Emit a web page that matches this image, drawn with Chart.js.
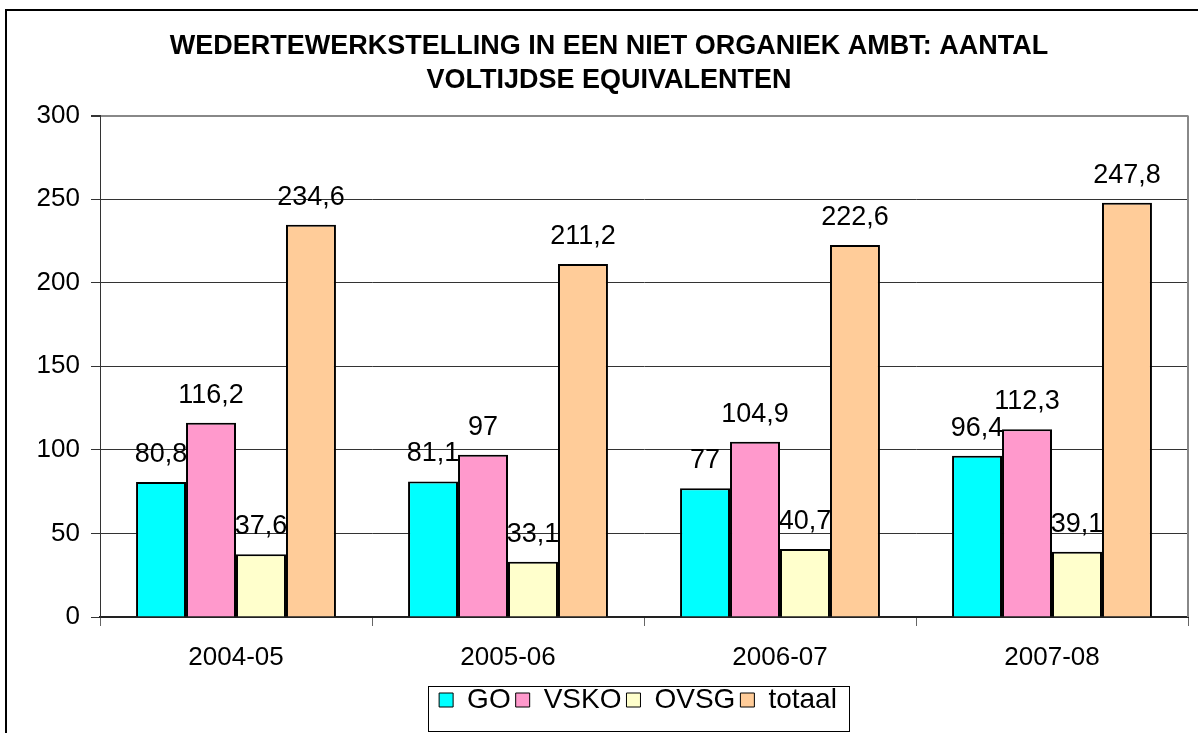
<!DOCTYPE html>
<html lang="nl">
<head>
  <meta charset="UTF-8">
  <title>Wedertewerkstelling in een niet organiek ambt</title>
  <style>
    body {
      margin: 0;
      padding: 0;
      background: #fff;
      overflow: hidden;
    }
    #wrap {
      position: absolute;
      left: 0;
      top: 0;
      width: 1198px;
      height: 733px;
    }
  </style>
  <script src="https://cdn.jsdelivr.net/npm/chart.js"></script>
</head>
<body>
<div id="wrap">
  <canvas id="chart" width="1198" height="733"></canvas>
</div>

<script>
  // data
  const categories = ['2004-05', '2005-06', '2006-07', '2007-08'];
  const goValues = [80.8, 81.1, 77, 96.4];
  const vskoValues = [116.2, 97, 104.9, 112.3];
  const ovsgValues = [37.6, 33.1, 40.7, 39.1];
  const totaalValues = [234.6, 211.2, 222.6, 247.8];
  const yTicks = [0, 50, 100, 150, 200, 250, 300];
  const titleLines = ['WEDERTEWERKSTELLING IN EEN NIET ORGANIEK AMBT: AANTAL', 'VOLTIJDSE EQUIVALENTEN'];

  const FONT = '"Liberation Sans", Arial, sans-serif';

  function fmt(v) {
    return String(v).replace('.', ',');
  }

  // outer frame of the chart object (right/bottom sides fall outside the picture)
  const framePlugin = {
    id: 'frame',
    beforeDraw(chart) {
      const ctx = chart.ctx;
      ctx.save();
      ctx.fillStyle = '#fff';
      ctx.fillRect(0, 0, chart.width, chart.height);
      ctx.strokeStyle = '#000';
      ctx.lineWidth = 2;
      ctx.strokeRect(6, 10, chart.width + 50, chart.height + 50);
      ctx.restore();
    },
    afterLayout(chart) {
      // the excel frame is wider than the picture, so title and legend sit right of centre
      chart.legend.left += 44;
      chart.legend.right += 44;
      if (chart.titleBlock) {
        chart.titleBlock.left += 15;
        chart.titleBlock.right += 15;
      }
    },
    afterDraw(chart) {
      // right border of the plot area
      const a = chart.chartArea;
      const ctx = chart.ctx;
      ctx.save();
      ctx.strokeStyle = '#888';
      ctx.lineWidth = 2;
      ctx.beginPath();
      ctx.moveTo(a.right, a.top);
      ctx.lineTo(a.right, a.bottom);
      ctx.stroke();

      // border round the legend
      const boxes = chart.legend.legendHitBoxes;
      if (boxes && boxes.length) {
        let left = Infinity, right = -Infinity;
        boxes.forEach(b => {
          left = Math.min(left, b.left);
          right = Math.max(right, b.left + b.width);
        });
        const cy = boxes[0].top + boxes[0].height / 2;
        ctx.strokeStyle = '#000';
        ctx.lineWidth = 1;
        ctx.strokeRect(Math.round(left - 11) + 0.5, Math.round(cy - 14) + 0.5, Math.round(right - left + 23), 45);
      }
      ctx.restore();
    }
  };

  // value labels above each bar
  const valueLabels = {
    id: 'valueLabels',
    afterDatasetsDraw(chart) {
      const ctx = chart.ctx;
      ctx.save();
      ctx.font = '27px ' + FONT;
      ctx.fillStyle = '#000';
      ctx.textAlign = 'center';
      ctx.textBaseline = 'alphabetic';
      chart.data.datasets.forEach((ds, i) => {
        const meta = chart.getDatasetMeta(i);
        meta.data.forEach((bar, j) => {
          ctx.fillText(fmt(ds.data[j]), bar.x, bar.y - 20);
        });
      });
      ctx.restore();
    }
  };

  const barBorder = '#000';

  new Chart(document.getElementById('chart'), {
    type: 'bar',
    data: {
      labels: categories,
      datasets: [
        { label: 'GO', data: goValues, backgroundColor: '#00FFFF', borderColor: barBorder, borderWidth: 2 },
        { label: 'VSKO', data: vskoValues, backgroundColor: '#FF99CC', borderColor: barBorder, borderWidth: 2 },
        { label: 'OVSG', data: ovsgValues, backgroundColor: '#FFFFCC', borderColor: barBorder, borderWidth: 2 },
        { label: 'totaal', data: totaalValues, backgroundColor: '#FFCC99', borderColor: barBorder, borderWidth: 2 }
      ]
    },
    options: {
      responsive: false,
      animation: false,
      devicePixelRatio: 1,
      categoryPercentage: 0.735,
      barPercentage: 1,
      layout: {
        padding: { left: 0, right: 10, top: 0, bottom: 9 }
      },
      plugins: {
        title: {
          display: true,
          text: titleLines,
          color: '#000',
          font: { family: FONT, size: 27, weight: 'bold', lineHeight: 1.25 },
          padding: { top: 30, bottom: 18 }
        },
        legend: {
          position: 'bottom',
          labels: {
            color: '#000',
            font: { family: FONT, size: 28 },
            boxWidth: 14,
            boxHeight: 14,
            padding: 5,
            generateLabels(chart) {
              return chart.data.datasets.map((ds, i) => ({
                text: ds.label,
                fillStyle: ds.backgroundColor,
                strokeStyle: '#000',
                lineWidth: 1,
                hidden: false,
                datasetIndex: i,
                fontColor: '#000'
              }));
            }
          }
        },
        tooltip: { enabled: false }
      },
      scales: {
        x: {
          offset: true,
          afterFit(scale) { scale.height = 64; },
          grid: {
            display: true,
            offset: true,
            drawOnChartArea: false,
            drawTicks: true,
            tickLength: 9,
            color: '#666'
          },
          border: { display: true, color: '#222', width: 2 },
          ticks: {
            color: '#000',
            font: { family: FONT, size: 26 },
            padding: 16,
            maxRotation: 0
          }
        },
        y: {
          min: 0,
          max: 300,
          afterFit(scale) { scale.width = 100; },
          afterBuildTicks(scale) { scale.ticks = yTicks.map(v => ({ value: v })); },
          grid: {
            color: ctx => (ctx.tick && ctx.tick.value === 300) ? '#888' : '#333',
            tickColor: '#333',
            lineWidth: ctx => (ctx.tick && ctx.tick.value === 300) ? 2 : 1,
            tickLength: 9,
            drawTicks: true
          },
          border: { display: true, color: '#333', width: 1 },
          ticks: {
            color: '#000',
            font: { family: FONT, size: 26 },
            padding: 11
          }
        }
      }
    },
    plugins: [framePlugin, valueLabels]
  });
</script>
</body>
</html>
